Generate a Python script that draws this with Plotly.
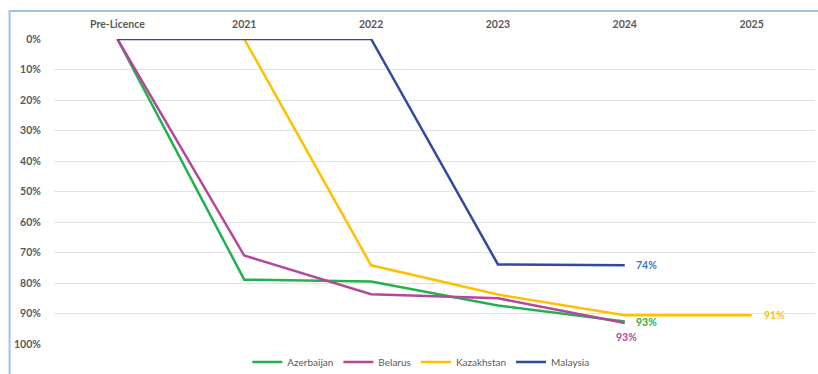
import plotly.graph_objects as go

categories = ["Pre-Licence", "2021", "2022", "2023", "2024", "2025"]
azerbaijan = [0, 78.9, 79.5, 87.4, 92.6, None]
belarus = [0, 71.0, 83.7, 85.0, 93.1, None]
kazakhstan = [None, 0, 74.2, 83.8, 90.6, 90.6]
malaysia = [0, 0, 0, 73.9, 74.2, None]
series_names = ["Azerbaijan", "Belarus", "Kazakhstan", "Malaysia"]
series_values = [azerbaijan, belarus, kazakhstan, malaysia]
line_colors = ["#22B14C", "#B5479B", "#FFC000", "#2F4A9E"]
label_colors = ["#22B14C", "#B5479B", "#FFC000", "#4472C4"]
end_labels = ["93%", "93%", "91%", "74%"]
y_ticks = [0, 10, 20, 30, 40, 50, 60, 70, 80, 90, 100]
y_tick_labels = [f"{v}%" for v in y_ticks]

fig = go.Figure()
for name, vals, col in zip(series_names, series_values, line_colors):
    fig.add_trace(go.Scatter(x=categories, y=vals, name=name, mode="lines",
                             line=dict(color=col, width=2.5), connectgaps=False))

# end-of-series labels (x given as category index so "2024" is not read as a number)
label_offsets = [(9, -1, "left"), (2, -14, "center"), (10, 0, "left"), (9, 0, "left")]
for vals, txt, col, (dx, dy, anchor) in zip(series_values, end_labels, label_colors, label_offsets):
    last_i = max(i for i, v in enumerate(vals) if v is not None)
    fig.add_annotation(x=last_i, y=vals[last_i], xref="x", yref="y",
                       text=f"<b>{txt}</b>", showarrow=False,
                       xanchor=anchor, yanchor="middle", xshift=dx, yshift=dy,
                       font=dict(family="Lato, Open Sans, sans-serif", size=10.5, color=col))

# chart area border (light blue, top and left visible)
fig.add_shape(type="rect", xref="paper", yref="paper",
              x0=-0.0584, x1=1.2, y0=-0.3, y1=1.0918,
              line=dict(color="#9DC3E6", width=2), fillcolor="rgba(0,0,0,0)", layer="below")

fig.update_layout(
    width=818, height=374,
    margin=dict(l=53.5, r=2.5, t=39, b=30, autoexpand=False),
    paper_bgcolor="white", plot_bgcolor="white",
    font=dict(family="Lato, Open Sans, sans-serif", color="#595959"),
    showlegend=True,
    legend=dict(orientation="h", x=0.482, xanchor="center", y=-0.059, yanchor="middle",
                font=dict(size=10, color="#595959"), itemwidth=30,
                bgcolor="rgba(0,0,0,0)", tracegroupgap=0),
    xaxis=dict(type="category", side="top", range=[-0.5, 5.5], showgrid=False,
               showline=False, zeroline=False, ticks="",
               tickfont=dict(size=10.5, color="#595959", weight="bold"), ticklabelstandoff=8),
    yaxis=dict(range=[100, 0], tickvals=y_ticks, ticktext=y_tick_labels,
               showgrid=True, gridcolor="#E3E3E3", gridwidth=1, zeroline=False,
               showline=False, ticks="outside", ticklen=10, tickcolor="rgba(0,0,0,0)",
               tickfont=dict(size=10.5, color="#595959", weight="bold")),
)

fig.write_html("out.html")
